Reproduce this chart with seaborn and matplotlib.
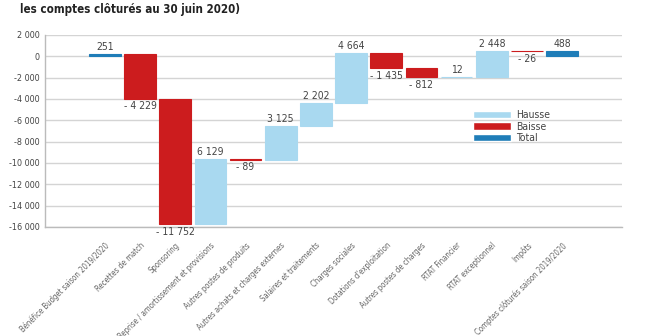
import matplotlib
matplotlib.use("Agg")
import matplotlib.pyplot as plt
from matplotlib.patches import Patch
from matplotlib.ticker import FixedLocator
import seaborn as sns

sns.set_theme(style="white")
plt.rcParams["font.family"] = ["DejaVu Sans"]
plt.rcParams["font.stretch"] = "condensed"

categories = [
    "Bénéfice Budget saison 2019/2020",
    "Recettes de match",
    "Sponsoring",
    "Reprise / amortissement et provisions",
    "Autres postes de produits",
    "Autres achats et charges externes",
    "Salaires et traitements",
    "Charges sociales",
    "Dotations d'exploitation",
    "Autres postes de charges",
    "RTAT Financier",
    "RTAT exceptionnel",
    "Impôts",
    "Comptes clôturés saison 2019/2020",
]
values = [251, -4229, -11752, 6129, -89, 3125, 2202, 4664, -1435, -812, 12, 2448, -26, 488]
kinds = ["total", "step", "step", "step", "step", "step", "step", "step",
         "step", "step", "step", "step", "step", "total"]
yticks = [2000, 0, -2000, -4000, -6000, -8000, -10000, -12000, -14000, -16000]

colors = {"up": "#a9d9f0", "down": "#cc1c1e", "total": "#1f7db8"}

# waterfall geometry: bottoms and heights from the running total
bottoms, heights, types = [], [], []
running = 0
for v, k in zip(values, kinds):
    if k == "total":
        bottoms.append(0)
        heights.append(v)
        types.append("total")
        running = v
    else:
        bottoms.append(running)
        heights.append(v)
        types.append("up" if v >= 0 else "down")
        running += v

fig = plt.figure(figsize=(6.6, 3.36), dpi=100)
ax = fig.add_axes([45 / 660, 1 - 227 / 336, 577 / 660, 192 / 336])

sns.barplot(x=categories, y=heights, bottom=bottoms, order=categories,
            width=0.9, ax=ax, color=colors["up"])
for p, t in zip(ax.patches, types):
    p.set_facecolor(colors[t])
    p.set_edgecolor(colors[t])
    p.set_linewidth(0.8)

# value labels
for i, (b, h, t) in enumerate(zip(bottoms, heights, types)):
    v = values[i]
    txt = f"{abs(v):,}".replace(",", " ")
    if t == "down":
        ax.text(i, b + h - 250, "- " + txt, ha="center", va="top",
                fontsize=7.5, color="#444444")
    else:
        ax.text(i, b + h + 200, txt, ha="center", va="bottom",
                fontsize=7.5, color="#444444")

ax.set_ylim(-16000, 2000)
ax.set_xlim(-1.7, 14.7)
ax.yaxis.set_major_locator(FixedLocator(yticks))
ax.set_yticklabels([f"{t:,}".replace(",", " ") for t in yticks],
                   fontsize=6.5, color="#444444")
ax.yaxis.grid(True, color="#d4d4d4", linewidth=1)
ax.set_axisbelow(True)
for s in ["top", "right"]:
    ax.spines[s].set_visible(False)
for s in ["left", "bottom"]:
    ax.spines[s].set_color("#bbbbbb")
    ax.spines[s].set_linewidth(1)
ax.tick_params(axis="y", length=0, pad=4)
ax.tick_params(axis="x", length=0, pad=10)
ax.set_xticks(range(len(categories)))
ax.set_xticklabels(categories, rotation=45, ha="right", rotation_mode="anchor",
                   fontsize=5.6, color="#666666")

handles = [Patch(facecolor=colors["up"], label="Hausse"),
           Patch(facecolor=colors["down"], label="Baisse"),
           Patch(facecolor=colors["total"], label="Total")]
leg = ax.legend(handles=handles, loc="upper left", bbox_to_anchor=(0.735, 0.63),
                frameon=False, fontsize=7.5, handlelength=3.6, handleheight=0.7,
                labelspacing=0.15, handletextpad=0.5, borderaxespad=0)
for tx in leg.get_texts():
    tx.set_color("#444444")

fig.text(20 / 660, 1 - 10 / 336, "les comptes clôturés au 30 juin 2020)",
         fontsize=8.3, fontweight="bold", color="#222222", va="center", ha="left")

fig.savefig("out.png", dpi=100)
